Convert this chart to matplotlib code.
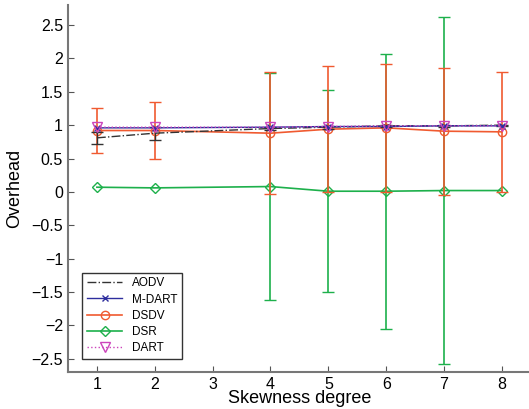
import numpy as np
import matplotlib.pyplot as plt
from matplotlib.lines import Line2D

plt.rcParams['font.family'] = ['Liberation Sans', 'DejaVu Sans']

x = [1, 2, 4, 5, 6, 7, 8]

aodv = [0.81, 0.88, 0.95, 0.97, 0.99, 0.99, 1.0]
aodv_err = [0.09, 0.10, 0.02, 0.02, 0.01, 0.01, 0.01]
mdart = [0.96, 0.96, 0.97, 0.98, 0.98, 0.99, 0.99]
dsdv = [0.92, 0.92, 0.88, 0.94, 0.96, 0.91, 0.90]
dsdv_err = [0.34, 0.43, 0.91, 0.94, 0.96, 0.95, 0.90]
dsr = [0.07, 0.06, 0.08, 0.01, 0.01, 0.02, 0.02]
dsr_err = [np.nan, np.nan, 1.70, 1.51, 2.06, 2.60, np.nan]
dart = [0.97, 0.97, 0.97, 0.98, 0.99, 0.99, 0.99]

c_aodv, c_mdart, c_dsdv, c_dsr, c_dart = '#333333', '#2e2e9e', '#f05a30', '#1db04b', '#cc44bb'

fig = plt.figure(figsize=(5.29, 4.09), dpi=100)
ax = fig.add_axes([0.1285, 0.0905, 0.875, 0.897])

ax.errorbar(x, dsr, yerr=dsr_err, color=c_dsr, marker='D', mfc='none', ms=5,
            lw=1.2, capsize=4, zorder=2)
ax.errorbar(x, dsdv, yerr=dsdv_err, color=c_dsdv, marker='o', mfc='none', ms=6,
            lw=1.2, capsize=4, zorder=3)
ax.errorbar(x, aodv, yerr=aodv_err, color=c_aodv, ls='-.', lw=1.0,
            capsize=4, zorder=4)
ax.plot(x, mdart, color=c_mdart, marker='x', ms=5, lw=1.0, zorder=5)
ax.plot(x, dart, color=c_dart, marker='v', mfc='none', ms=7, ls=':', lw=1.0, zorder=6)

ax.set_xlim(0.5, 8.5)
ax.set_ylim(-2.7, 2.8)
ax.set_xticks(range(1, 9))
ax.set_yticks(np.arange(-2.5, 2.6, 0.5))
ax.set_yticklabels(['\u22122.5', '\u22122', '\u22121.5', '\u22121', '\u22120.5', '0',
                    '0.5', '1', '1.5', '2', '2.5'])
ax.tick_params(direction='in', labelsize=11.5, length=4, color='#555555')
for s in ['top', 'right']:
    ax.spines[s].set_visible(False)
for s in ['left', 'bottom']:
    ax.spines[s].set_color('#777777')
    ax.spines[s].set_linewidth(1.5)

ax.set_xlabel('Skewness degree', fontsize=13, labelpad=-1)
ax.set_ylabel('Overhead', fontsize=13, labelpad=6)

handles = [
    Line2D([], [], color=c_aodv, ls='-.', lw=1.0),
    Line2D([], [], color=c_mdart, marker='x', ms=5, lw=1.0),
    Line2D([], [], color=c_dsdv, marker='o', mfc='none', ms=6, lw=1.2),
    Line2D([], [], color=c_dsr, marker='D', mfc='none', ms=5, lw=1.2),
    Line2D([], [], color=c_dart, marker='v', mfc='none', ms=7, ls=':', lw=1.0),
]
labels = ['AODV', 'M-DART', 'DSDV', 'DSR', 'DART']
leg = ax.legend(handles, labels, loc='lower left', bbox_to_anchor=(0.018, 0.02), fontsize=8.5,
                frameon=True, fancybox=False, edgecolor='black', handlelength=3,
                borderpad=0.4, labelspacing=0.35)
leg.get_frame().set_linewidth(1.0)

fig.savefig('out.png', dpi=100)
